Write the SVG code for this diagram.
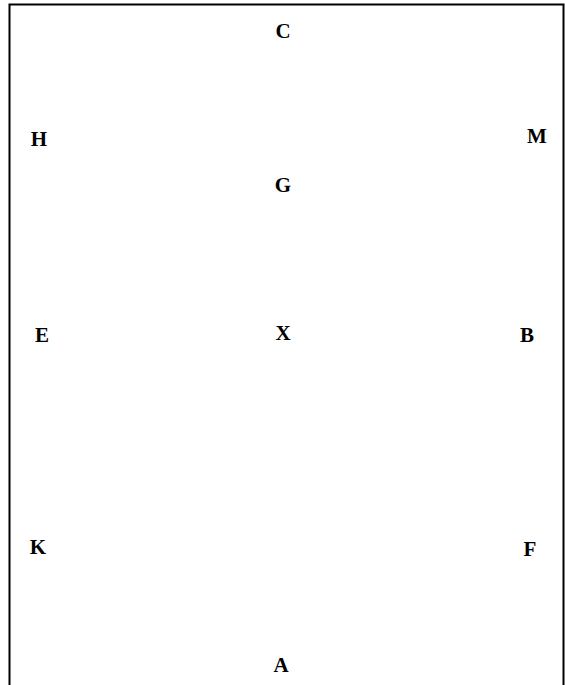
<svg xmlns="http://www.w3.org/2000/svg" width="565" height="685" viewBox="0 0 565 685">
<style>
.l{font-family:"Liberation Serif","Times New Roman",serif;font-weight:bold;font-size:21px;text-anchor:middle;fill:#000}
.b{stroke:#000;fill:none}
</style>
<rect width="565" height="685" fill="#fff"/>
<g id="connectors">
<path class="b" d="M9.5 685 V4.5 H563.5 V685" stroke-width="2"/>
</g>
<g id="C"><text class="l" x="283" y="38">C</text></g>
<g id="H"><text class="l" x="39" y="146">H</text></g>
<g id="M"><text class="l" x="537" y="143">M</text></g>
<g id="G"><text class="l" x="283" y="192">G</text></g>
<g id="E"><text class="l" x="42" y="342">E</text></g>
<g id="X"><text class="l" x="283" y="340">X</text></g>
<g id="B"><text class="l" x="527" y="342">B</text></g>
<g id="K"><text class="l" x="38" y="554">K</text></g>
<g id="F"><text class="l" x="530" y="556">F</text></g>
<g id="A"><text class="l" x="281" y="672">A</text></g>
</svg>
